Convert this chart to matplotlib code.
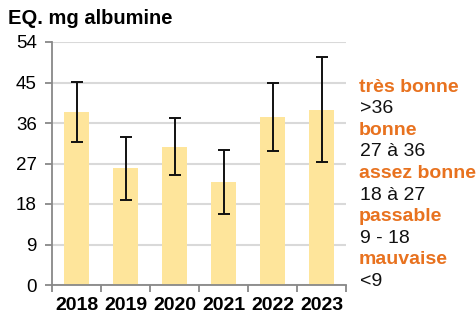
import matplotlib
matplotlib.use("Agg")
import matplotlib.pyplot as plt

plt.rcParams['font.family'] = ['Liberation Sans', 'DejaVu Sans']

# data
years = ['2018', '2019', '2020', '2021', '2022', '2023']
values = [38.4, 25.9, 30.7, 22.8, 37.3, 39.0]
err_low = [31.8, 19.0, 24.4, 15.7, 29.8, 27.4]
err_high = [45.2, 32.8, 37.1, 30.0, 45.0, 50.6]
y_ticks = [0, 9, 18, 27, 36, 45, 54]
classes = ['très bonne', 'bonne', 'assez bonne', 'passable', 'mauvaise']
ranges = ['>36', '27 à 36', '18 à 27', '9 - 18', '<9']

W, H = 476, 315
fig = plt.figure(figsize=(W / 100, H / 100), dpi=100)
ax = fig.add_axes([52 / W, 30 / H, 294 / W, 243 / H])

x = list(range(len(years)))
yerr = [[v - lo for v, lo in zip(values, err_low)],
        [hi - v for v, hi in zip(values, err_high)]]
ax.bar(x, values, width=0.5, color='#FEE59B', zorder=2)
ax.errorbar(x, values, yerr=yerr, fmt='none', ecolor='#111111',
            elinewidth=1.4, capsize=4.5, capthick=1.4, zorder=3)

ax.set_xlim(-0.5, len(years) - 0.5)
ax.set_ylim(0, 54)
ax.set_yticks(y_ticks)
ax.set_yticklabels([str(t) for t in y_ticks], fontsize=13.5)
ax.yaxis.grid(True, color='#d9d9d9', linewidth=1.5, zorder=0)
ax.set_axisbelow(True)

ax.set_xticks([i - 0.5 for i in range(len(years) + 1)])
ax.set_xticklabels([])
ax.set_xticks(x, minor=True)
ax.set_xticklabels(years, minor=True, fontsize=14, fontweight='bold')
ax.tick_params(axis='x', which='minor', length=0, pad=9)
ax.tick_params(axis='x', which='major', length=5, color='#888888', width=1.3)
ax.tick_params(axis='y', length=5, color='#888888', width=1.3, pad=6)

for s in ['top', 'right']:
    ax.spines[s].set_visible(False)
for s in ['left', 'bottom']:
    ax.spines[s].set_color('#888888')
    ax.spines[s].set_linewidth(1.3)

fig.text(8 / W, 1 - 18 / H, 'EQ. mg albumine', fontsize=14.5,
         fontweight='bold', va='center', ha='left')

orange = '#E8721F'
y0 = 87
step = 21.6
for i, (c, r) in enumerate(zip(classes, ranges)):
    fig.text(359 / W, 1 - (y0 + 2 * i * step) / H, c, color=orange,
             fontsize=14, fontweight='bold', va='center', ha='left')
    fig.text(360 / W, 1 - (y0 + (2 * i + 1) * step) / H, r, color='#111111',
             fontsize=14, va='center', ha='left')

fig.savefig('out.png', dpi=100)
